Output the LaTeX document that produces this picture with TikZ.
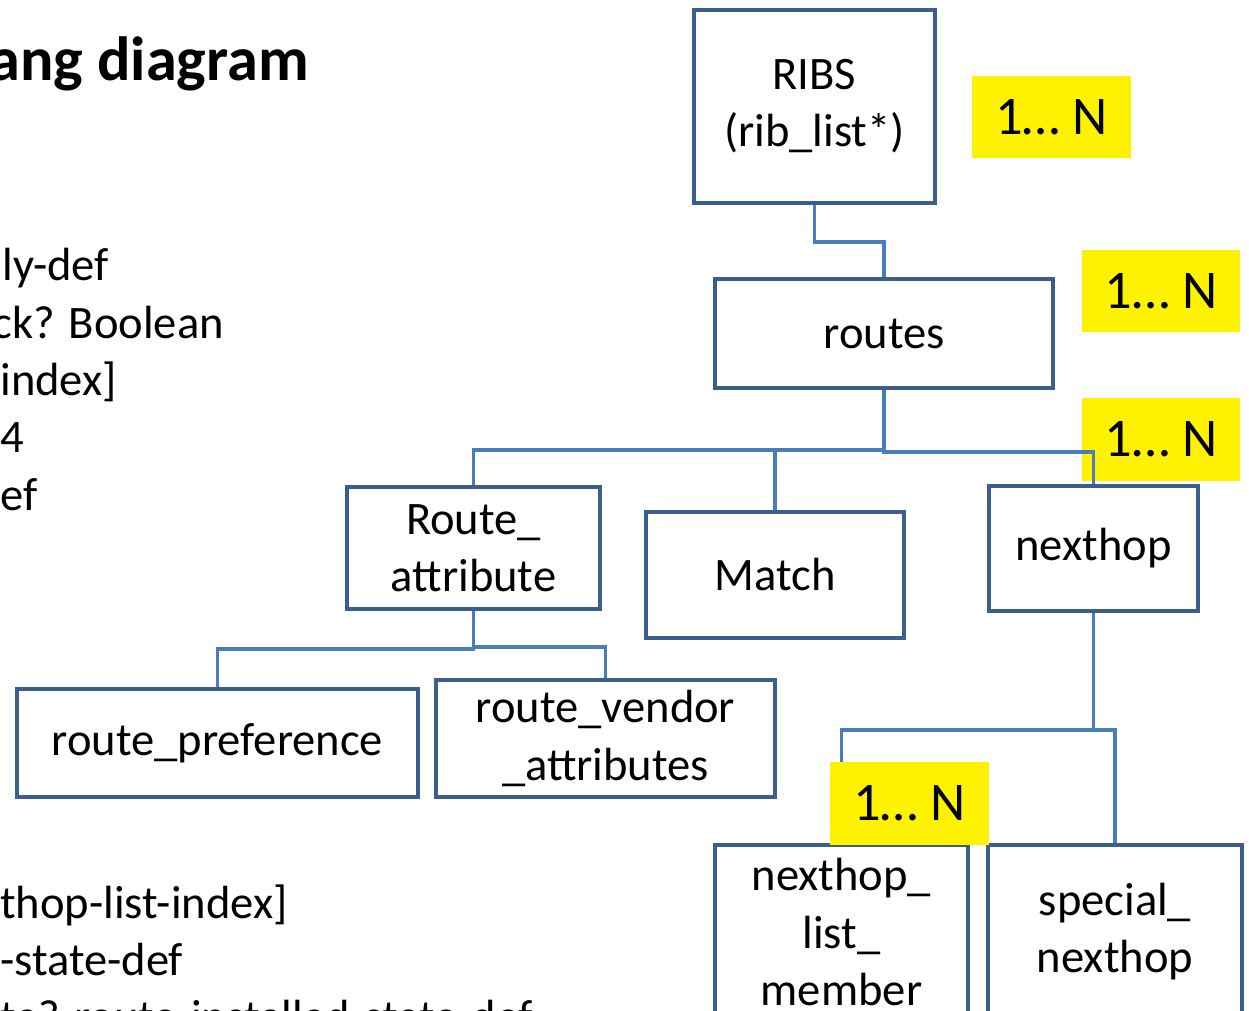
\documentclass[tikz,border=0pt]{standalone}
\usepackage{fontspec}
\setmainfont{Carlito}
\usepackage{tikz}
\usetikzlibrary{positioning}
\definecolor{boxline}{HTML}{3B5E8C}
\definecolor{linkline}{HTML}{4A7EBB}

\begin{document}
\begin{tikzpicture}[x=0.02cm,y=-0.02cm,
    box/.style={draw=boxline,line width=2.3pt,fill=white,inner sep=0pt,align=center,
      font=\fontsize{26.5}{32.5}\selectfont},
    sz/.style 2 args={minimum width=#1*0.02cm,minimum height=#2*0.02cm},
    card/.style={fill=yellow,inner sep=0pt,font=\fontsize{31}{36}\selectfont},
    link/.style={draw=linkline,line width=2.2pt},
    txt/.style={anchor=base west,inner sep=0pt,font=\fontsize{26.5}{32.5}\selectfont}]
        \useasboundingbox (0,0) rectangle (1249,1011);

        \node[txt,font=\fontsize{35.5}{40}\selectfont\bfseries] (title) at (-11,80) {ang diagram};
        \node[txt] (l1) at (2,280) {ly-def};
        \node[txt] (l2) at (-8,338) {ck? Boolean};
        \node[txt] (l3) at (0,395) {index]};
        \node[txt] (l4) at (0,452) {4};
        \node[txt] (l5) at (0,510) {ef};
        \node[txt] (l6) at (0,918) {thop-list-index]};
        \node[txt] (l7) at (0,975) {-state-def};
        \node[txt] (l8) at (0,1032) {te? route-installed-state-def};

        \node[card,sz={159}{82}] (n1) at (1051.5,117) {1… N};
        \node[card,sz={158}{82}] (n2) at (1161,291) {1… N};
        \node[card,sz={158}{83}] (n3) at (1161,439.5) {1… N};

        \node[box,sz={241}{193}] (ribs) at (814.5,106.5) {RIBS\\(rib\_list*)};
        \node[box,sz={338}{109}] (routes) at (884,333.5) {routes};
        \node[box,sz={253}{122}] (rattr) at (473.5,548) {Route\_\\attribute};
        \node[box,sz={258}{126}] (match) at (775,575) {Match};
        \node[box,sz={209}{125}] (nhop) at (1093.5,548.5) {nexthop};
        \node[box,sz={401}{108}] (rpref) at (217.5,743) {route\_preference};
        \node[box,sz={339}{117}] (rvend) at (605.5,738.5) {route\_vendor\\\_attributes};
        \node[box,sz={253}{174}] (nhlist) at (841.5,932) {nexthop\_\\list\_\\member};
        \node[box,sz={254}{174}] (spnh) at (1115,932) {special\_\\nexthop};

        \path[link] (ribs.south) -- ++(0,37) -| (routes.north);
        \path[link] (routes.south) -- ++(0,60) -| (rattr.north);
        \path[link] (routes.south) -- ++(0,60) -| (match.north);
        \path[link] (routes.south) -- ++(0,62) -| (nhop.north);
        \path[link] (rattr.south) -- ++(0,38) -| (rpref.north);
        \path[link] (rattr.south) -- ++(0,36) -| (rvend.north);
        \path[link] (nhop.south) -- ++(0,117) -| (nhlist.north);
        \path[link] (nhop.south) -- ++(0,117) -| (spnh.north);

        \node[card,sz={159}{83}] (n4) at (909.5,803.5) {1… N};
      \end{tikzpicture}
\end{document}
